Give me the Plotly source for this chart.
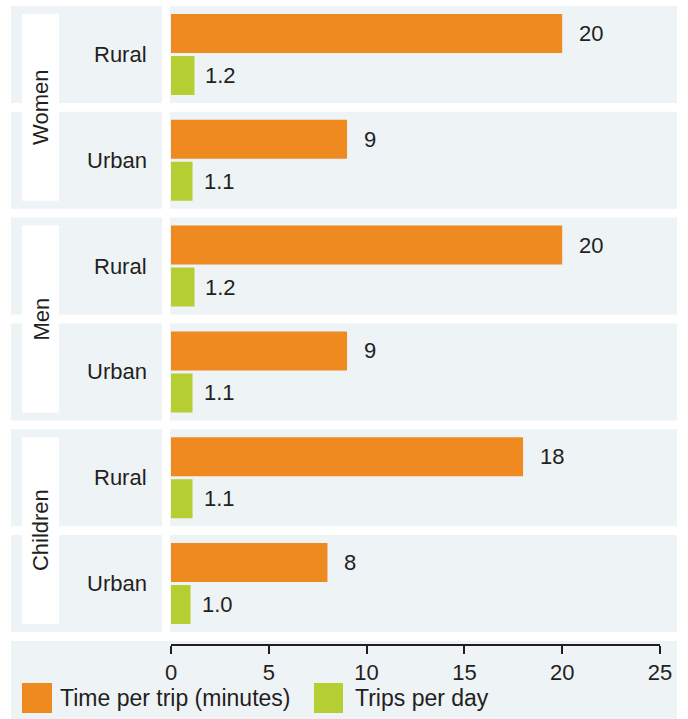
import plotly.graph_objects as go

# ---- data ----
groups = ["Women", "Men", "Children"]
areas = ["Rural", "Urban"]
time_per_trip = [20, 9, 20, 9, 18, 8]          # minutes; rows: Women R/U, Men R/U, Children R/U
trips_per_day = [1.2, 1.1, 1.2, 1.1, 1.1, 1.0]
time_labels = ["20", "9", "20", "9", "18", "8"]
trips_labels = ["1.2", "1.1", "1.2", "1.1", "1.1", "1.0"]
series_names = ["Time per trip (minutes)", "Trips per day"]
x_ticks = [0, 5, 10, 15, 20, 25]

# ---- styles ----
W, H = 688, 719
ORANGE = "#EE8A1F"
GREEN = "#B5CF32"
PANEL = "#EEF3F6"
TEXT = "#231F20"
FONT = "Liberation Sans, Arial, sans-serif"
FS = 22

def xp(px):
    return px / W

def yp(px):
    return 1 - px / H

row_top0, pitch, row_h = 6, 105.8, 97
plot_left, plot_right = 171, 660
left_panel = (11, 162)
right_panel = (170, 677)

fig = go.Figure()
shapes = []
annotations = []

n = len(time_per_trip)
for i in range(n):
    top = row_top0 + i * pitch
    bot = top + row_h
    yname = "y" if i == 0 else f"y{i+1}"
    lname = "yaxis" if i == 0 else f"yaxis{i+1}"
    fig.add_trace(go.Bar(x=[time_per_trip[i]], y=[0], orientation="h", width=0.929,
                         marker=dict(color=ORANGE, line=dict(width=0)),
                         xaxis="x", yaxis=yname, showlegend=False, hoverinfo="skip"))
    fig.add_trace(go.Bar(x=[trips_per_day[i]], y=[1], orientation="h", width=0.929,
                         marker=dict(color=GREEN, line=dict(width=0)),
                         xaxis="x", yaxis=yname, showlegend=False, hoverinfo="skip"))
    fig.update_layout(**{lname: dict(domain=[yp(bot), yp(top)], range=[1.655, -0.655],
                                     visible=False, fixedrange=True, automargin=False)})
    for (x0, x1) in (left_panel, right_panel):
        shapes.append(dict(type="rect", xref="paper", yref="paper", x0=xp(x0), x1=xp(x1),
                           y0=yp(bot), y1=yp(top), fillcolor=PANEL, line=dict(width=0), layer="below"))
    annotations.append(dict(text=areas[i % 2], xref="paper", yref=f"{yname} domain", x=xp(149), y=0.5,
                            xanchor="right", yanchor="middle", showarrow=False,
                            font=dict(family=FONT, size=FS, color=TEXT)))
    annotations.append(dict(text=time_labels[i], xref="x", yref=yname, x=time_per_trip[i], y=0,
                            xanchor="left", yanchor="middle", xshift=15, showarrow=False,
                            font=dict(family=FONT, size=FS, color=TEXT)))
    annotations.append(dict(text=trips_labels[i], xref="x", yref=yname, x=trips_per_day[i], y=1,
                            xanchor="left", yanchor="middle", xshift=9, showarrow=False,
                            font=dict(family=FONT, size=FS, color=TEXT)))

# group label boxes
for g, name in enumerate(groups):
    top = row_top0 + (2 * g) * pitch + 8
    bot = row_top0 + (2 * g + 1) * pitch + row_h - 8
    shapes.append(dict(type="rect", xref="paper", yref="paper", x0=xp(22), x1=xp(59),
                       y0=yp(bot), y1=yp(top), fillcolor="white", line=dict(width=0), layer="below"))
    annotations.append(dict(text=name, xref="paper", yref="paper", x=xp(40.5), y=yp((top + bot) / 2),
                            xanchor="center", yanchor="middle", textangle=-90, showarrow=False,
                            font=dict(family=FONT, size=FS, color=TEXT)))

# bottom axis / legend panel
shapes.append(dict(type="rect", xref="paper", yref="paper", x0=xp(11), x1=xp(677),
                   y0=0, y1=yp(641), fillcolor=PANEL, line=dict(width=0), layer="below"))

# legend (drawn manually to match the large swatches)
legend_items = [(series_names[0], ORANGE, 22, 52, 58), (series_names[1], GREEN, 314, 343, 353)]
for name, col, x0, x1, tx in legend_items:
    shapes.append(dict(type="rect", xref="paper", yref="paper", x0=xp(x0), x1=xp(x1),
                       y0=yp(713), y1=yp(683), fillcolor=col, line=dict(width=0)))
    annotations.append(dict(text=name, xref="paper", yref="paper", x=xp(tx), y=yp(698),
                            xanchor="left", yanchor="middle", showarrow=False,
                            font=dict(family=FONT, size=23, color=TEXT)))

fig.update_layout(
    width=W, height=H,
    margin=dict(l=0, r=0, t=0, b=0, pad=0, autoexpand=False),
    paper_bgcolor="white",
    plot_bgcolor="rgba(0,0,0,0)",
    barmode="overlay",
    showlegend=False,
    xaxis=dict(domain=[xp(plot_left), xp(plot_right)], range=[0, 25], anchor="free", position=yp(645),
               tickmode="array", tickvals=x_ticks, ticktext=[str(t) for t in x_ticks],
               ticks="outside", ticklen=8, tickwidth=2, tickcolor=TEXT,
               showline=True, linewidth=2, linecolor=TEXT, showgrid=False, zeroline=False,
               automargin=False,
               tickfont=dict(family=FONT, size=FS, color=TEXT), fixedrange=True),
    shapes=shapes,
    annotations=annotations,
)

fig.write_html("out.html")
